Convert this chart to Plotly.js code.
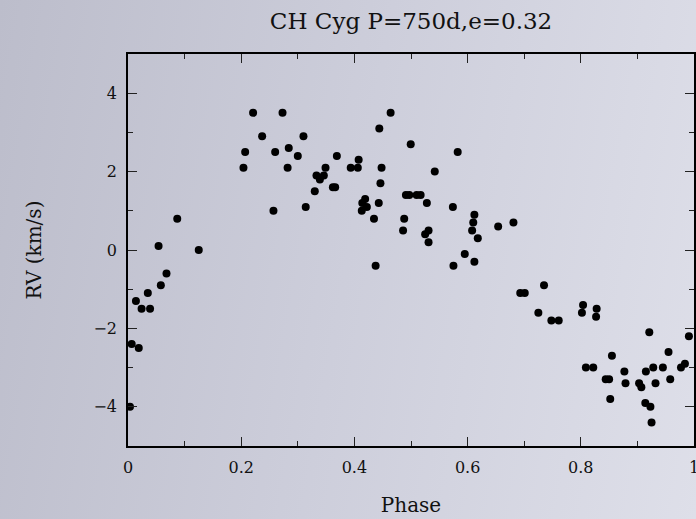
<!DOCTYPE html>
<html>
<head>
<meta charset="utf-8">
<script src="https://cdn.plot.ly/plotly-3.0.1.min.js"></script>
<style>
html,body{margin:0;padding:0;}
body{width:696px;height:519px;background:linear-gradient(100deg,#bcbdcb 0%,#cdcedb 50%,#dedfe9 100%);}
#chart{width:696px;height:519px;}
</style>
</head>
<body>
<div id="chart"></div>
<script>
const phase = [0.0035,0.0065,0.014,0.019,0.024,0.035,0.039,0.054,0.058,0.068,0.087,0.125,
0.204,0.207,0.221,0.237,0.257,0.260,0.273,0.282,0.284,0.300,0.310,0.314,0.330,0.333,0.339,0.346,0.349,
0.362,0.366,0.369,0.3935,0.406,0.4075,0.413,0.414,0.419,0.422,0.4346,0.4375,0.443,0.444,0.446,0.448,
0.464,0.486,0.488,0.491,0.497,0.4995,0.510,0.517,0.525,0.528,0.531,0.531,0.542,0.574,0.575,0.5825,
0.595,0.608,0.610,0.612,0.612,0.618,0.654,0.681,0.693,0.701,0.725,0.735,0.748,0.761,0.802,0.804,
0.809,0.822,0.827,0.828,0.844,0.850,0.852,0.855,0.877,0.879,0.903,0.907,0.914,0.915,0.921,0.923,
0.925,0.928,0.932,0.945,0.955,0.958,0.977,0.984,0.991];
const rv = [-4.0,-2.4,-1.3,-2.5,-1.5,-1.1,-1.5,0.1,-0.9,-0.6,0.8,0.0,
2.1,2.5,3.5,2.9,1.0,2.5,3.5,2.1,2.6,2.4,2.9,1.1,1.5,1.9,1.8,1.9,2.1,
1.6,1.6,2.4,2.1,2.1,2.3,1.0,1.2,1.3,1.1,0.8,-0.4,1.2,3.1,1.7,2.1,
3.5,0.5,0.8,1.4,1.4,2.7,1.4,1.4,0.4,1.2,0.5,0.2,2.0,1.1,-0.4,2.5,
-0.1,0.5,0.7,0.9,-0.3,0.3,0.6,0.7,-1.1,-1.1,-1.6,-0.9,-1.8,-1.8,-1.6,-1.4,
-3.0,-3.0,-1.7,-1.5,-3.3,-3.3,-3.8,-2.7,-3.1,-3.4,-3.4,-3.5,-3.9,-3.1,-2.1,-4.0,
-4.4,-3.0,-3.4,-3.0,-2.6,-3.3,-3.0,-2.9,-2.2];
const xTickVals = [0,0.2,0.4,0.6,0.8,1];
const xTickText = ["0","0.2","0.4","0.6","0.8","1"];
const yTickVals = [-4,-2,0,2,4];

const font = "DejaVu Serif, Liberation Serif, serif";
const axisCommon = {
  showline:true, linecolor:"#000", linewidth:1.5, mirror:"ticks",
  ticks:"inside", ticklen:9, tickwidth:1, tickcolor:"#222",
  showgrid:false, zeroline:false, ticklabelstandoff:6,
  ticklabeloverflow:"allow",
  tickfont:{family:font,size:16,color:"#111"}
};
const data = [{
  x: phase, y: rv, type:"scatter", mode:"markers",
  marker:{color:"#000", size:8}, hoverinfo:"x+y", cliponaxis:false
}];
const layout = {
  width:696, height:519,
  paper_bgcolor:"rgba(0,0,0,0)", plot_bgcolor:"rgba(0,0,0,0)",
  margin:{l:128,r:2,t:54,b:73},
  showlegend:false,
  title:{text:"CH Cyg P=750d,e=0.32", font:{family:font,size:23,color:"#111"},
    x:0.5906, xanchor:"center", yref:"container", y:1-21/519, yanchor:"middle"},
  xaxis:Object.assign({}, axisCommon, {
    range:[0,1], tickvals:xTickVals, ticktext:xTickText,
    minor:{dtick:0.1, tick0:0, ticks:"inside", ticklen:5, tickwidth:1, tickcolor:"#222"},
    title:{text:"Phase", font:{family:font,size:20,color:"#111"}, standoff:22}
  }),
  yaxis:Object.assign({}, axisCommon, {
    range:[-5,5], tickvals:yTickVals,
    minor:{dtick:1, tick0:0, ticks:"inside", ticklen:5, tickwidth:1, tickcolor:"#222"},
    title:{text:"RV (km/s)", font:{family:font,size:20,color:"#111"}, standoff:46}
  })
};
Plotly.newPlot("chart", data, layout, {displayModeBar:false});
</script>
</body>
</html>
